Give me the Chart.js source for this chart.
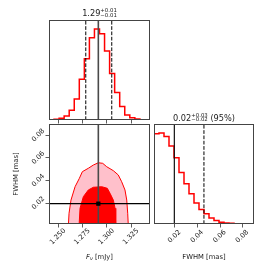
<!DOCTYPE html>
<html>
<head>
<meta charset="utf-8">
<script src="https://cdn.jsdelivr.net/npm/chart.js@4.4.0/dist/chart.umd.min.js"></script>
<style>
  html, body { margin: 0; padding: 0; background: #fff; }
  #wrap { position: relative; width: 274px; height: 274px; }
  #wrap canvas { position: absolute; left: 0; top: 0; }
</style>
</head>
<body>
<div id="wrap">
  <canvas id="histFlux" width="274" height="274"></canvas>
  <canvas id="joint" width="274" height="274"></canvas>
  <canvas id="histFwhm" width="274" height="274"></canvas>
</div>
<script>
// values
const fluxTicks = [1.250, 1.275, 1.300, 1.325];
const fluxTickLabels = ['1.250', '1.275', '1.300', '1.325'];
const fwhmTicks = [0.02, 0.04, 0.06, 0.08];
const fwhmTickLabels = ['0.02', '0.04', '0.06', '0.08'];
const fluxRange = [1.2404, 1.3442];
const fwhmRange = [0.0015, 0.0900];

// 20-bin step histograms
const fluxCounts = [1, 2, 5, 12, 29, 62, 121, 182, 244, 270, 256, 205, 138, 82, 40, 15, 7, 3, 1, 0];
const fwhmCounts = [266, 268, 258, 230, 195, 152, 119, 89, 62, 43, 30, 18, 10, 5, 3, 2, 1, 1, 0, 0];

const fluxMedian = 1.2911;
const fluxQuantiles = [1.2782, 1.3049];
const fwhmMedian = 0.0195;
const fwhmUpper95 = 0.0457;

// 2d density contours (flux, fwhm)
const outerFlux = [1.2603, 1.2610, 1.2630, 1.2672, 1.2716, 1.2747, 1.2808, 1.2860, 1.2911, 1.2956, 1.2997, 1.3065, 1.3116, 1.3151, 1.3185, 1.3203, 1.3213, 1.3219];
const outerFwhm = [0.0000, 0.0110, 0.0227, 0.0345, 0.0419, 0.0478, 0.0508, 0.0537, 0.0557, 0.0552, 0.0522, 0.0487, 0.0449, 0.0389, 0.0316, 0.0227, 0.0110, 0.0000];
const innerFlux = [1.2713, 1.2723, 1.2757, 1.2808, 1.2860, 1.2946, 1.3003, 1.3031, 1.3065, 1.3083, 1.3090];
const innerFwhm = [0.0000, 0.0154, 0.0257, 0.0316, 0.0340, 0.0345, 0.0331, 0.0287, 0.0227, 0.0154, 0.0000];

const fluxTitle = ['1.29', '+0.01', '\u22120.01', ''];
const fwhmTitle = ['0.02', '+0.03', '\u22120.02', ' (95%)'];
const fwhmLabel = 'FWHM [mas]';

const FONT = '"DejaVu Sans", sans-serif';
const TEXT = '#222';

function stepPoints(range, counts) {
  const w = (range[1] - range[0]) / counts.length;
  const pts = [{x: range[0], y: 0}];
  counts.forEach((c, i) => pts.push({x: range[0] + i * w, y: c}));
  pts.push({x: range[1], y: counts[counts.length - 1]});
  pts.push({x: range[1], y: 0});
  return pts;
}

function zipPoints(xs, ys) {
  return xs.map((x, i) => ({x: x, y: ys[i]}));
}

function vline(x, y0, y1, color, width, dash) {
  return {data: [{x: x, y: y0}, {x: x, y: y1}], borderColor: color, borderWidth: width,
          borderDash: dash || [], pointRadius: 0, fill: false};
}

function axis(range, ticks, labels, position, size, showLabels) {
  return {
    type: 'linear', position: position, min: range[0], max: range[1],
    afterBuildTicks: s => { s.ticks = ticks.map(v => ({value: v})); },
    afterFit: s => { if (position === 'left') s.width = size; else s.height = size; },
    border: {display: false},
    grid: {drawOnChartArea: false, drawTicks: true, tickLength: 3.5, color: '#333', lineWidth: 0.8},
    ticks: {display: showLabels, autoSkip: false, minRotation: 45, maxRotation: 45,
            font: {family: FONT, size: 6.8}, color: TEXT,
            callback: (v, i) => labels[i]}
  };
}

const frame = {
  id: 'frame',
  afterDatasetsDraw(chart) {
    const a = chart.chartArea, ctx = chart.ctx;
    ctx.save();
    ctx.strokeStyle = '#444';
    ctx.lineWidth = 1;
    ctx.strokeRect(Math.round(a.left) + 0.5, Math.round(a.top) + 0.5,
                   Math.round(a.right - a.left) - 1, Math.round(a.bottom - a.top) - 1);
    ctx.restore();
  }
};

// re-centre the rotated tick labels the way matplotlib does
function centeredLabels(place) {
  return {
    id: 'centeredLabels',
    beforeDraw(chart) {
      const a = chart.chartArea;
      Object.keys(place).forEach(id => {
        const scale = chart.scales[id];
        scale.getLabelItems(a).forEach((item, i) => {
          const p = scale.getPixelForTick(i);
          item.textOffset = 0;
          item.options.textAlign = 'center';
          item.options.textBaseline = 'middle';
          item.options.translation = scale.isHorizontal()
            ? [p + place[id][0], a.bottom + place[id][1]]
            : [a.left + place[id][0], p + place[id][1]];
        });
      });
    }
  };
}

function mathTitle(ctx, t, cx, base) {
  const big = 8.2, small = 5.4;
  ctx.font = big + 'px ' + FONT;
  const wMain = ctx.measureText(t[0]).width;
  const wTail = ctx.measureText(t[3]).width;
  ctx.font = small + 'px ' + FONT;
  const wScript = Math.max(ctx.measureText(t[1]).width, ctx.measureText(t[2]).width);
  let x = cx - (wMain + wScript + wTail) / 2;
  ctx.fillStyle = TEXT;
  ctx.textAlign = 'left';
  ctx.textBaseline = 'alphabetic';
  ctx.font = big + 'px ' + FONT;
  ctx.fillText(t[0], x, base);
  x += wMain;
  ctx.font = small + 'px ' + FONT;
  ctx.fillText(t[1], x, base - 4);
  ctx.fillText(t[2], x, base + 0.8);
  x += wScript;
  ctx.font = big + 'px ' + FONT;
  ctx.fillText(t[3], x, base);
}

function textPlugin(fn) {
  return {id: 'texts', afterDraw(chart) { const ctx = chart.ctx; ctx.save(); fn(ctx, chart.chartArea); ctx.restore(); }};
}

const base = {
  responsive: false, animation: false, devicePixelRatio: 1, events: [],
  plugins: {legend: {display: false}, tooltip: {enabled: false}},
  elements: {line: {tension: 0}, point: {radius: 0}}
};

// top-left: flux histogram
const fluxMax = Math.max(...fluxCounts) * 1.1;
new Chart(document.getElementById('histFlux'), {
  type: 'line',
  data: {datasets: [
    vline(fluxQuantiles[0], 0, fluxMax, '#000', 1, [3.7, 1.6]),
    vline(fluxQuantiles[1], 0, fluxMax, '#000', 1, [3.7, 1.6]),
    vline(fluxMedian, 0, fluxMax, '#4a4a4a', 1.6),
    {data: stepPoints(fluxRange, fluxCounts), stepped: 'before', borderColor: '#ff0000',
     borderWidth: 1.5, pointRadius: 0, fill: false}
  ]},
  options: Object.assign({}, base, {
    layout: {padding: {left: 49, right: 124, top: 20, bottom: 150}},
    scales: {
      x: axis(fluxRange, fluxTicks, fluxTickLabels, 'bottom', 4, false),
      y: {display: false, min: 0, max: fluxMax}
    }
  }),
  plugins: [frame, textPlugin((ctx, a) => mathTitle(ctx, fluxTitle, (a.left + a.right) / 2, 16))]
});

// bottom-left: joint density
new Chart(document.getElementById('joint'), {
  type: 'line',
  data: {datasets: [
    {data: [{x: fluxMedian, y: fwhmMedian}], showLine: false, pointStyle: 'rect', pointRadius: 3,
     backgroundColor: '#000', borderColor: '#000', borderWidth: 0},
    {data: [{x: 1.2, y: fwhmMedian}, {x: 1.4, y: fwhmMedian}], borderColor: '#000', borderWidth: 1.2, pointRadius: 0, fill: false},
    vline(fluxMedian, 0, 0.1, '#4a4a4a', 1.6),
    {data: zipPoints(innerFlux, innerFwhm), fill: 'shape', backgroundColor: '#ff0000',
     borderColor: '#ff0000', borderWidth: 1, pointRadius: 0},
    {data: zipPoints(outerFlux, outerFwhm), fill: 'shape', backgroundColor: '#ffc0cb',
     borderColor: '#ff0000', borderWidth: 1, pointRadius: 0}
  ]},
  options: Object.assign({}, base, {
    layout: {padding: {left: 0, right: 124, top: 124, bottom: 0}},
    scales: {
      x: axis(fluxRange, fluxTicks, fluxTickLabels, 'bottom', 50, true),
      y: axis(fwhmRange, fwhmTicks, fwhmTickLabels, 'left', 49, true)
    }
  }),
  plugins: [frame, centeredLabels({x: [-0.5, 12.5], y: [-10.7, 0]}), textPlugin((ctx, a) => {
    ctx.fillStyle = TEXT;
    ctx.textBaseline = 'middle';
    ctx.textAlign = 'center';
    ctx.save();
    ctx.translate(16, (a.top + a.bottom) / 2);
    ctx.rotate(-Math.PI / 2);
    ctx.font = '6.8px ' + FONT;
    ctx.fillText(fwhmLabel, 0, 0);
    ctx.restore();
    // F_nu [mJy]
    ctx.textAlign = 'left';
    ctx.textBaseline = 'alphabetic';
    ctx.font = 'italic 6.8px ' + FONT;
    const wF = ctx.measureText('F').width;
    ctx.font = 'italic 4.9px ' + FONT;
    const wNu = ctx.measureText('\u03bd').width;
    ctx.font = '6.8px ' + FONT;
    const wRest = ctx.measureText(' [mJy]').width;
    let x = (a.left + a.right) / 2 - (wF + wNu + wRest) / 2;
    const y = 259;
    ctx.font = 'italic 6.8px ' + FONT;
    ctx.fillText('F', x, y);
    x += wF;
    ctx.font = 'italic 4.9px ' + FONT;
    ctx.fillText('\u03bd', x, y + 1.3);
    x += wNu;
    ctx.font = '6.8px ' + FONT;
    ctx.fillText(' [mJy]', x, y);
  })]
});

// bottom-right: fwhm histogram
const fwhmMax = Math.max(...fwhmCounts) * 1.1;
new Chart(document.getElementById('histFwhm'), {
  type: 'line',
  data: {datasets: [
    vline(fwhmUpper95, 0, fwhmMax, '#000', 1, [3.7, 1.6]),
    vline(fwhmMedian, 0, fwhmMax, '#111', 1.2),
    {data: stepPoints(fwhmRange, fwhmCounts), stepped: 'before', borderColor: '#ff0000',
     borderWidth: 1.5, pointRadius: 0, fill: false}
  ]},
  options: Object.assign({}, base, {
    layout: {padding: {left: 154, right: 20, top: 124, bottom: 0}},
    scales: {
      x: axis(fwhmRange, fwhmTicks, fwhmTickLabels, 'bottom', 50, true),
      y: {display: false, min: 0, max: fwhmMax}
    }
  }),
  plugins: [frame, centeredLabels({x: [-0.5, 12.5]}), textPlugin((ctx, a) => {
    mathTitle(ctx, fwhmTitle, (a.left + a.right) / 2, 120.5);
    ctx.fillStyle = TEXT;
    ctx.textAlign = 'center';
    ctx.textBaseline = 'alphabetic';
    ctx.font = '6.8px ' + FONT;
    ctx.fillText(fwhmLabel, (a.left + a.right) / 2, 259);
  })]
});
</script>
</body>
</html>
